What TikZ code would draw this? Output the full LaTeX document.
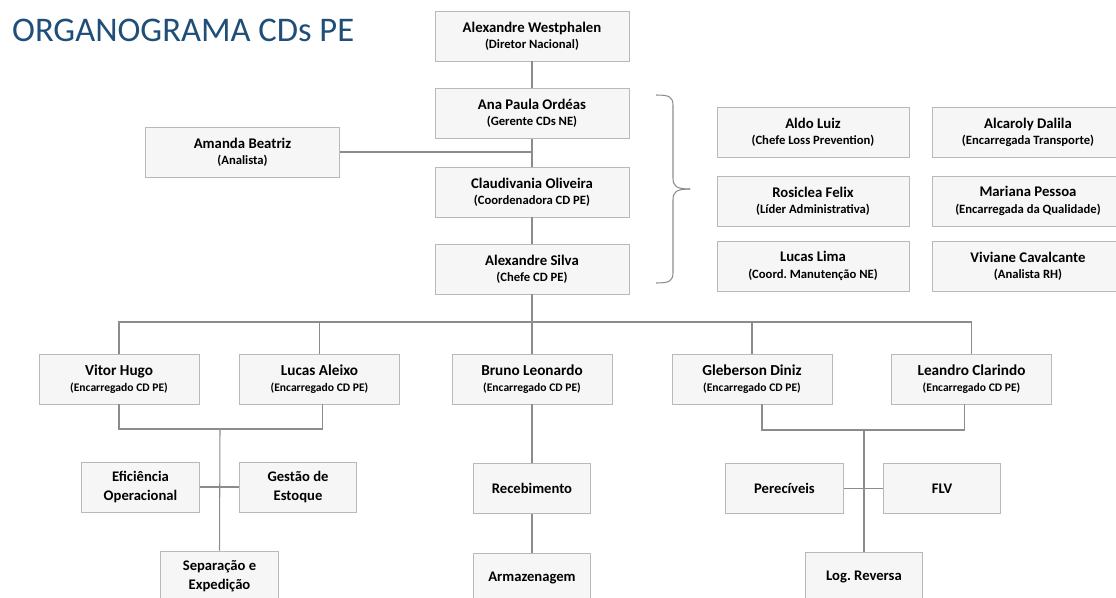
\documentclass[tikz,border=0pt]{standalone}
\usepackage{fontspec}
\setmainfont{Carlito}
\definecolor{titleblue}{RGB}{31,78,121}
\def\cargopt{10.8}
\newcommand\cargo[1]{{\fontsize{\cargopt}{12}\selectfont #1}}
\tikzset{
	box/.style={draw=gray!55,fill=gray!7,line width=0.8pt,minimum height=15mm,inner sep=1pt,align=center,font=\bfseries\fontsize{12.6}{14}\selectfont},
	boxa/.style={box,minimum width=58.2mm},
	boxb/.style={box,minimum width=57.6mm},
	boxc/.style={box,minimum width=48mm,font={\def\cargopt{9.9}\bfseries\fontsize{13}{14}\selectfont}},
	boxd/.style={box,minimum width=35.2mm,font=\bfseries\fontsize{12.5}{16}\selectfont},
	link/.style={draw=gray!90,line width=0.9pt}
}
\begin{document}
\begin{tikzpicture}[x=0.3mm,y=-0.3mm]
			\useasboundingbox(0,0) rectangle (1116,598);
			\clip(0,0) rectangle (1116,598);
			\node[anchor=base west,text=titleblue,font=\fontsize{29.5}{32}\selectfont](title) at(8,42){ORGANOGRAMA CDs PE};
			\node[boxa](wes) at(532,36){Alexandre Westphalen\\\cargo{(Diretor Nacional)}};
			\node[boxa](ana) at(532,113.5){Ana Paula Ordéas\\\cargo{(Gerente CDs NE)}};
			\node[boxa](cla) at(532,192){Claudivania Oliveira\\\cargo{(Coordenadora CD PE)}};
			\node[boxa](ale) at(532,269){Alexandre Silva\\\cargo{(Chefe CD PE)}};
			\node[boxa](ama) at(242.5,152){Amanda Beatriz\\\cargo{(Analista)}};
			\draw[link](wes)--(ana);
			\draw[link](ana)--(cla);
			\draw[link](cla)--(ale);
			\draw[link](ama.east)--(ama.east-|ana.south);
			\coordinate(bt) at(656,95);
			\coordinate(tip) at(690,189);
			\coordinate(bb) at(656,283);
			\draw[link](bt) .. controls (670,95) and (673,97) .. (673,106)--(673,178) .. controls (673,186) and (676,189) .. (tip);
			\draw[link](tip) .. controls (676,189) and (673,192) .. (673,200)--(673,272) .. controls (673,281) and (670,283) .. (bb);
			\node[boxb](ald) at(813,132.5){Aldo Luiz\\\cargo{(Chefe Loss Prevention)}};
			\node[boxb](alc) at(1028,132.5){Alcaroly Dalila\\\cargo{(Encarregada Transporte)}};
			\node[boxb](ros) at(813,201){Rosiclea Felix\\\cargo{(Líder Administrativa)}};
			\node[boxb](mar) at(1028,201){Mariana Pessoa\\\cargo{(Encarregada da Qualidade)}};
			\node[boxb](lli) at(813,266){Lucas Lima\\\cargo{(Coord.\ Manutenção NE)}};
			\node[boxb](viv) at(1028,266){Viviane Cavalcante\\\cargo{(Analista RH)}};
			\node[boxc](vit) at(119,379){Vitor Hugo\\\cargo{(Encarregado CD PE)}};
			\node[boxc](lal) at(319.5,379){Lucas Aleixo\\\cargo{(Encarregado CD PE)}};
			\node[boxc](bru) at(532,379){Bruno Leonardo\\\cargo{(Encarregado CD PE)}};
			\node[boxc](gle) at(752,379){Gleberson Diniz\\\cargo{(Encarregado CD PE)}};
			\node[boxc](lea) at(971.5,379){Leandro Clarindo\\\cargo{(Encarregado CD PE)}};
			\coordinate(bus) at(532,322);
			\draw[link](ale)--(bru);
			\draw[link](vit.north)--(vit.north|-bus)--(lea.north|-bus)--(lea.north);
			\draw[link](lal.north)--(lal.north|-bus);
			\draw[link](gle.north)--(gle.north|-bus);
			\node[boxd](efi) at(140.5,487){Eficiência\\Operacional};
			\node[boxd](ges) at(298,487){Gestão de\\Estoque};
			\node[boxd](sep) at(219.5,576){Separação e\\Expedição};
			\node[boxd](rec) at(532,488.5){Recebimento};
			\node[boxd](arm) at(532,578){Armazenagem};
			\node[boxd](per) at(784.5,488.5){Perecíveis};
			\node[boxd](flv) at(942,488.5){FLV};
			\node[boxd](log) at(864,577){Log.\ Reversa};
			\coordinate(jl) at(220,429);
			\coordinate(jr) at(864,430);
			\draw[link](vit.south)--(vit.south|-jl)--([xshift=0.8mm]lal.south|-jl)--([xshift=0.8mm]lal.south);
			\draw[link](jl)--(sep.north);
			\draw[link](efi.east)--(ges.west);
			\draw[link](bru)--(rec);
			\draw[link](rec)--(arm);
			\draw[link]([xshift=3mm]gle.south)--([xshift=3mm]gle.south|-jr)--([xshift=-2mm]lea.south|-jr)--([xshift=-2mm]lea.south);
			\draw[link](jr)--(log.north);
			\draw[link](per.east)--(flv.west);
			\end{tikzpicture}
\end{document}
